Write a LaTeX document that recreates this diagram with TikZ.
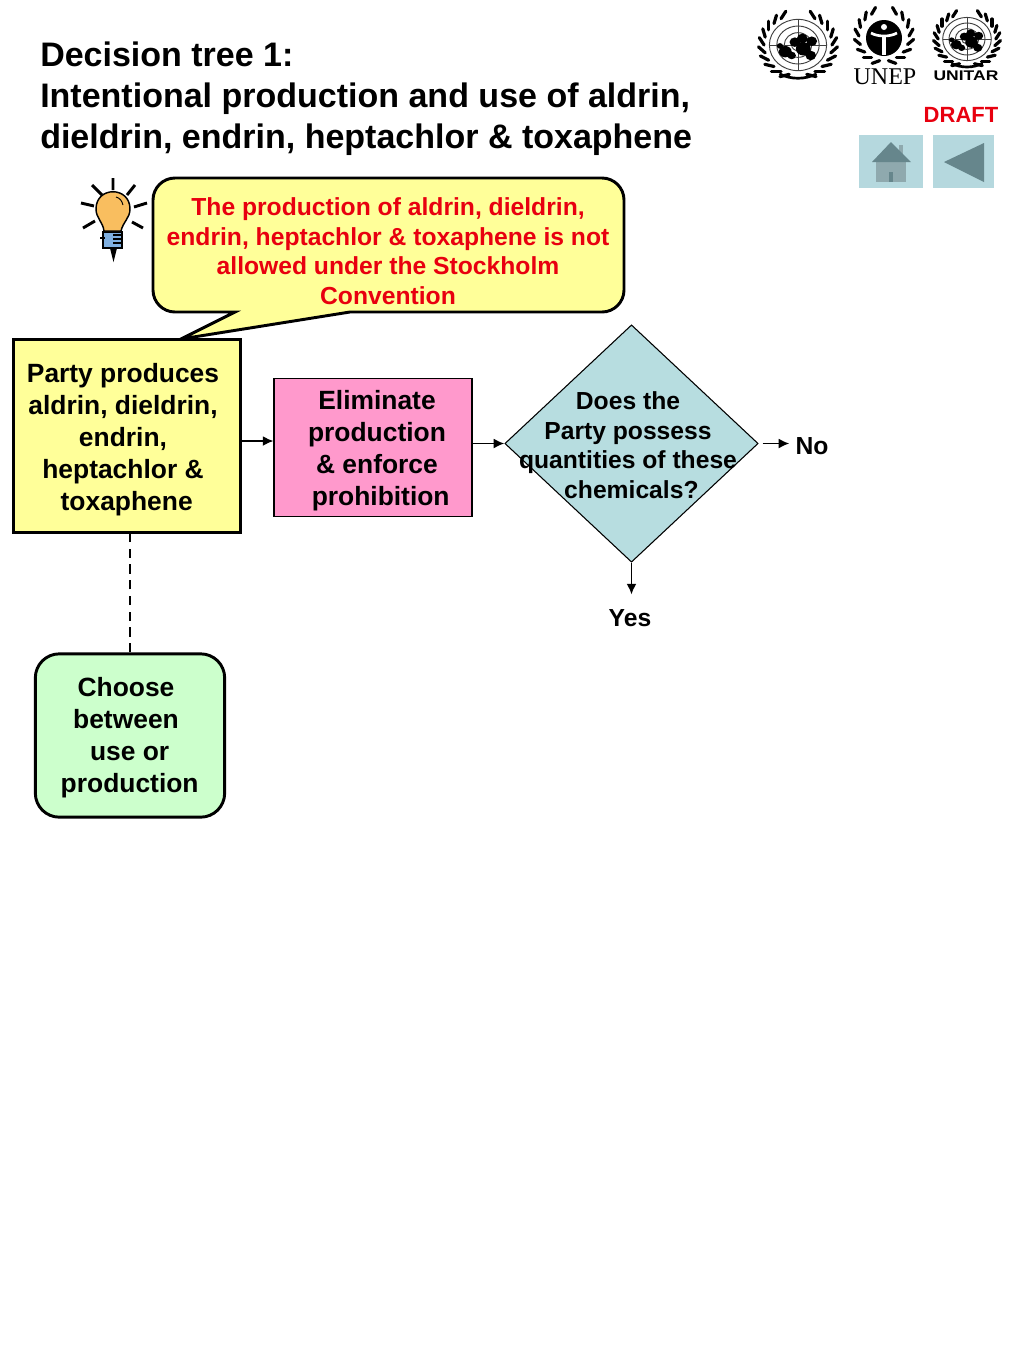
\documentclass[tikz,border=0pt]{standalone}
\usepackage{fontspec}
\setmainfont{Liberation Sans}
\newfontfamily\unepfont{Liberation Serif}
\usetikzlibrary{shapes.geometric,arrows.meta}
\definecolor{noteyellow}{HTML}{FFFF99}
\definecolor{elimpink}{HTML}{FF99CC}
\definecolor{choosegreen}{HTML}{CCFFCC}
\definecolor{askblue}{HTML}{B7DDE0}
\definecolor{btnblue}{HTML}{B5D8DE}
\definecolor{btndark}{HTML}{66868C}
\definecolor{btnmid}{HTML}{8FA9AE}
\definecolor{draftred}{HTML}{E8000F}
\definecolor{bulbgold}{HTML}{F9BE5F}
\definecolor{bulbblue}{HTML}{7FAFE0}
\tikzset{
  txt/.style 2 args={font=\bfseries\fontsize{#1}{#2}\selectfont, align=center, inner sep=0pt},
  arrow/.style={-{Latex[length=8pt,width=7.5pt]}, line width=1.3pt},
  leaf/.style={line width=2.4pt, line cap=round},
  unlogo/.pic={
    % wreath
    \foreach \a in {-60,-45,...,75}{
      \draw[leaf] (\a:32) -- ++(\a-60:9);
      \draw[leaf] (180-\a:32) -- ++(240-\a:9);
    }
    \draw[line width=2pt] (60:35) arc (60:120:35);
    % globe
    \draw[line width=.7pt, black!75] (0,0) circle (27) circle (20) circle (13) circle (6);
    \draw[line width=.7pt, black!75] (-27,0) -- (27,0) (0,-27) -- (0,27);
    \fill (-12,7) circle (6) (-6,11) circle (4) (-3,-3) circle (5) (4,-7) circle (5) (5,4) circle (7) (12,11) circle (5) (13,-4) circle (5) (-17,1) circle (3);
  }
}
\begin{document}
\begin{tikzpicture}[x=0.75pt, y=-0.75pt]
  \useasboundingbox[fill=white] (0,0) rectangle (1024,1365);
  % Title
  \node[txt={25.5}{30.75}, align=left, anchor=north west] (title) at (40,42) {Decision tree 1:\\Intentional production and use of aldrin,\\dieldrin, endrin, heptachlor \& toxaphene};
  % Logos
  \pic[xscale=1.06,yscale=0.95] at (798,45) {unlogo};
  \pic[xscale=0.9,yscale=0.8] at (967,39) {unlogo};
  \foreach \a in {-60,-40,...,80}{
    \draw[leaf] (884,36) ++(\a:25) -- ++(\a-60:8);
    \draw[leaf] (884,36) ++(180-\a:25) -- ++(240-\a:8);
  }
  \fill (884,38) circle (18);
  \fill[white] (884,27) circle (3);
  \draw[white, line width=2pt] (871,33) .. controls (878,37) and (890,37) .. (897,33);
  \draw[white, line width=2.4pt] (884,35) -- (884,55);
  \node[font=\unepfont\fontsize{18}{20}\selectfont, inner sep=0pt] (unep) at (885,77) {UNEP};
  \node[txt={10.5}{13}] (unitar) at (966,76) {\scalebox{1.25}[1]{UNITAR}};
  \node[txt={16.5}{18}, text=draftred] (draft) at (961,115) {DRAFT};
  % Buttons
  \fill[btnblue] (859,135) rectangle (923,188);
  \fill[btnmid] (876,162) rectangle (906,182);
  \fill[btndark] (889,172) rectangle (893,182);
  \fill[btnmid] (899,145) rectangle (903,155);
  \fill[btndark] (872,162) -- (891,142) -- (911,162) -- cycle;
  \fill[btnblue] (933,135) rectangle (994,188);
  \fill[btndark] (944,162) -- (984,143) -- (984,182) -- cycle;
  % Lightbulb
  \draw[line width=2.2pt] (113,178) -- (113,190) (135,185) -- (127,195) (147,203) -- (134,207) (143,228) -- (132,222) (92,185) -- (102,195) (81,203) -- (94,206) (83,228) -- (95,221);
  \fill[bulbblue, draw=black, line width=.8pt] (103,232) rectangle (122,248);
  \draw[line width=1pt] (113,235) -- (122,235) (113,239) -- (122,239) (113,243) -- (122,243);
  \draw[line width=1.5pt] (100,238) -- (105,238);
  \fill (110,248) -- (117,248) -- (113.5,262) -- cycle;
  \draw[fill=bulbgold, line width=1.1pt] (104,231) .. controls (103,222) and (96,218) .. (96,209) .. controls (96,186) and (130,186) .. (130,209) .. controls (130,218) and (123,222) .. (121,231) -- cycle;
  \draw[line width=.7pt] (116,197) .. controls (120,198) and (122,201) .. (123,205);
  % Callout
  \draw[fill=noteyellow, line width=2.2pt] (175,178) -- (602,178) arc (-90:0:22) -- (624,290) arc (0:90:22) -- (350,312) -- (181,339) -- (235,312) -- (175,312) arc (90:180:22) -- (153,200) arc (180:270:22) -- cycle;
  \node[txt={18.5}{22.1}, text=draftred] (note) at (388,251) {The production of aldrin, dieldrin,\\endrin, heptachlor \& toxaphene is not\\allowed under the Stockholm\\Convention};
  % Boxes
  \node[draw, fill=noteyellow, line width=2.2pt, minimum width=170pt, minimum height=144.5pt, inner sep=0pt] (party) at (127,436) {};
  \node[txt={19.8}{24}] (partytxt) at (123,440) {Party produces\\aldrin, dieldrin,\\endrin,\\heptachlor \&\\~toxaphene};
  \node[draw, fill=elimpink, line width=.8pt, minimum width=148.5pt, minimum height=104pt, inner sep=0pt] (elim) at (373,447.5) {};
  \node[txt={19.8}{24}] (elimtxt) at (377,451) {Eliminate\\production\\\& enforce\\~prohibition};
  \node[draw, fill=askblue, diamond, line width=.8pt, minimum width=190pt, minimum height=178pt, inner sep=0pt] (ask) at (631.5,443.5) {};
  \node[txt={18.5}{22.1}] (asktxt) at (628,445) {Does the\\Party possess\\quantities of these\\~chemicals?};
  \node[draw, fill=choosegreen, line width=2.2pt, rounded corners=18pt, minimum width=142pt, minimum height=122.5pt, inner sep=0pt] (choose) at (130,735.5) {};
  \node[txt={19.8}{24}] (choosetxt) at (126,738) {Choose\\between\\~use or\\~production};
  \node[txt={18.5}{22}] (no) at (812,446) {No};
  \node[txt={18.5}{22}] (yes) at (630,618) {Yes};
  % Connectors
  \draw[arrow] ([yshift=-3.75pt]party.east) -- ([yshift=-3.75pt]party.east -| elim.west);
  \draw[arrow] ([yshift=3pt]elim.east) -- (ask.west);
  \draw[arrow] ([xshift=3pt]ask.east) -- ([xshift=-4.5pt]no.west |- ask.east);
  \draw[arrow] (ask.south) -- ([yshift=11pt]ask.south |- yes.north);
  \draw[line width=1.6pt, dash pattern=on 7pt off 4.8pt] (choose.north) -- (choose.north |- party.south);
\end{tikzpicture}
\end{document}
